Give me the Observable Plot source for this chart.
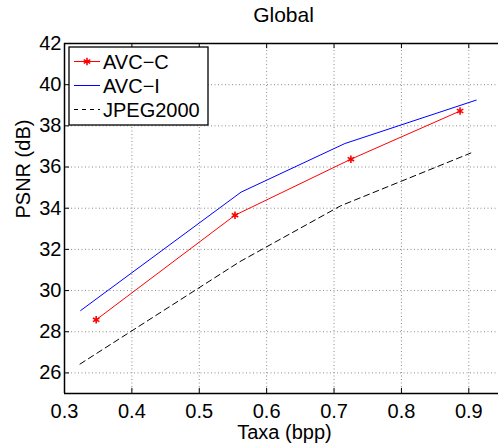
<!DOCTYPE html>
<html>
<head>
<meta charset="utf-8">
<script src="https://cdn.jsdelivr.net/npm/d3@7"></script>
<script src="https://cdn.jsdelivr.net/npm/@observablehq/plot@0.6"></script>
<style>
  html, body { margin: 0; padding: 0; background: #fff; }
  svg { display: block; }
</style>
</head>
<body>
<div id="chart"></div>
<script>
const seriesNames = ["AVC−C", "AVC−I", "JPEG2000"];
const rateAvcC = [0.347, 0.553, 0.725, 0.887];
const psnrAvcC = [28.58, 33.66, 36.38, 38.72];
const rateAvcI = [0.324, 0.562, 0.716, 0.911];
const psnrAvcI = [29.03, 34.78, 37.14, 39.25];
const rateJpeg = [0.323, 0.56, 0.71, 0.903];
const psnrJpeg = [26.43, 31.4, 34.12, 36.68];
const xTicks = [0.3, 0.4, 0.5, 0.6, 0.7, 0.8, 0.9];
const yTicks = [26, 28, 30, 32, 34, 36, 38, 40, 42];
const titleText = "Global";
const xLabel = "Taxa (bpp)";
const yLabel = "PSNR (dB)";

const toRows = (name, xs, ys) => xs.map((x, i) => ({series: name, rate: x, psnr: ys[i]}));
const avcC = toRows(seriesNames[0], rateAvcC, psnrAvcC);
const avcI = toRows(seriesNames[1], rateAvcI, psnrAvcI);
const jpeg = toRows(seriesNames[2], rateJpeg, psnrJpeg);

const font = "'Liberation Sans', Arial, Helvetica, sans-serif";
const W = 498, H = 445;
const xDom = [0.3, 0.95], yDom = [25, 42];
const gridStyle = {stroke: "#8c8c8c", strokeWidth: 1, strokeDasharray: "1,2.5", strokeOpacity: 1};

const chart = Plot.plot({
  width: W,
  height: H,
  marginLeft: 64,
  marginRight: 0,
  marginTop: 43,
  marginBottom: 52,
  style: {fontFamily: font, fontSize: "20px", background: "#fff", color: "#000"},
  x: {domain: xDom, range: [64, 502], ticks: xTicks},
  y: {domain: yDom, ticks: yTicks},
  marks: [
    Plot.ruleX(xTicks.filter(d => d > xDom[0]), {...gridStyle}),
    Plot.ruleY(yTicks.filter(d => d < yDom[1]), {...gridStyle}),
    Plot.line(jpeg, {x: "rate", y: "psnr", stroke: "#000", strokeWidth: 1, strokeDasharray: "6,4"}),
    Plot.line(avcC, {x: "rate", y: "psnr", stroke: "#ff0000", strokeWidth: 1}),
    Plot.line(avcI, {x: "rate", y: "psnr", stroke: "#0000ff", strokeWidth: 1}),
    Plot.dot(avcC, {x: "rate", y: "psnr", symbol: "asterisk", r: 3.5, stroke: "#ff0000", strokeWidth: 1.6}),
    // inner ticks
    Plot.ruleX(xTicks, {x: d => d, y1: yDom[0], y2: yDom[0] + 0.25, stroke: "#000", strokeWidth: 1}),
    Plot.ruleX(xTicks, {x: d => d, y1: yDom[1], y2: yDom[1] - 0.25, stroke: "#000", strokeWidth: 1}),
    Plot.ruleY(yTicks, {y: d => d, x1: xDom[0], x2: xDom[0] + 0.0075, stroke: "#000", strokeWidth: 1}),
    // box lines
    Plot.ruleY([yDom[0]], {stroke: "#000", strokeWidth: 1.5}),
    Plot.ruleY([yDom[1]], {stroke: "#000", strokeWidth: 1.5}),
    Plot.ruleX([xDom[0]], {stroke: "#000", strokeWidth: 1.5}),
    Plot.axisX({ticks: xTicks, tickSize: 0, tickPadding: 10, tickFormat: d3.format(".1f"), label: null, fontSize: 20}),
    Plot.axisY({ticks: yTicks, tickSize: 0, tickPadding: 3, tickFormat: d => String(d), label: null, fontSize: 20}),
    Plot.text([titleText], {frameAnchor: "top", lineAnchor: "middle", dy: -28, dx: 2, fontSize: 21, fill: "#000"}),
    Plot.text([xLabel], {frameAnchor: "bottom", lineAnchor: "middle", dy: 39.5, dx: 3, fontSize: 20, fill: "#000"}),
    Plot.text([yLabel], {frameAnchor: "left", lineAnchor: "middle", rotate: -90, dx: -41, fontSize: 20, fill: "#000"})
  ]
});

document.getElementById("chart").appendChild(chart);

// Legend (inside the axes, top-left)
const svg = d3.select(chart);
const lg = svg.append("g").attr("font-family", font).attr("font-size", "20px").attr("text-anchor", "start");
lg.append("rect").attr("x", 69).attr("y", 47).attr("width", 139).attr("height", 78)
  .attr("fill", "#fff").attr("stroke", "#000").attr("stroke-width", 1.3);
const legendStyles = [
  {color: "#ff0000", dash: null, marker: true},
  {color: "#0000ff", dash: null, marker: false},
  {color: "#000", dash: "4,4", marker: false}
];
seriesNames.forEach((name, i) => {
  const cy = 61.5 + i * 24;
  const s = legendStyles[i];
  const ln = lg.append("line").attr("x1", 74).attr("x2", 100).attr("y1", cy).attr("y2", cy)
    .attr("stroke", s.color).attr("stroke-width", 1);
  if (s.dash) ln.attr("stroke-dasharray", s.dash);
  if (s.marker) {
    lg.append("path").attr("d", d3.symbol(d3.symbolAsterisk, 40)()).attr("transform", `translate(87,${cy})`)
      .attr("stroke", s.color).attr("stroke-width", 1.6).attr("fill", "none");
  }
  lg.append("text").attr("x", 103).attr("y", cy).attr("dy", "0.36em").attr("fill", "#000").text(name);
});
</script>
</body>
</html>
